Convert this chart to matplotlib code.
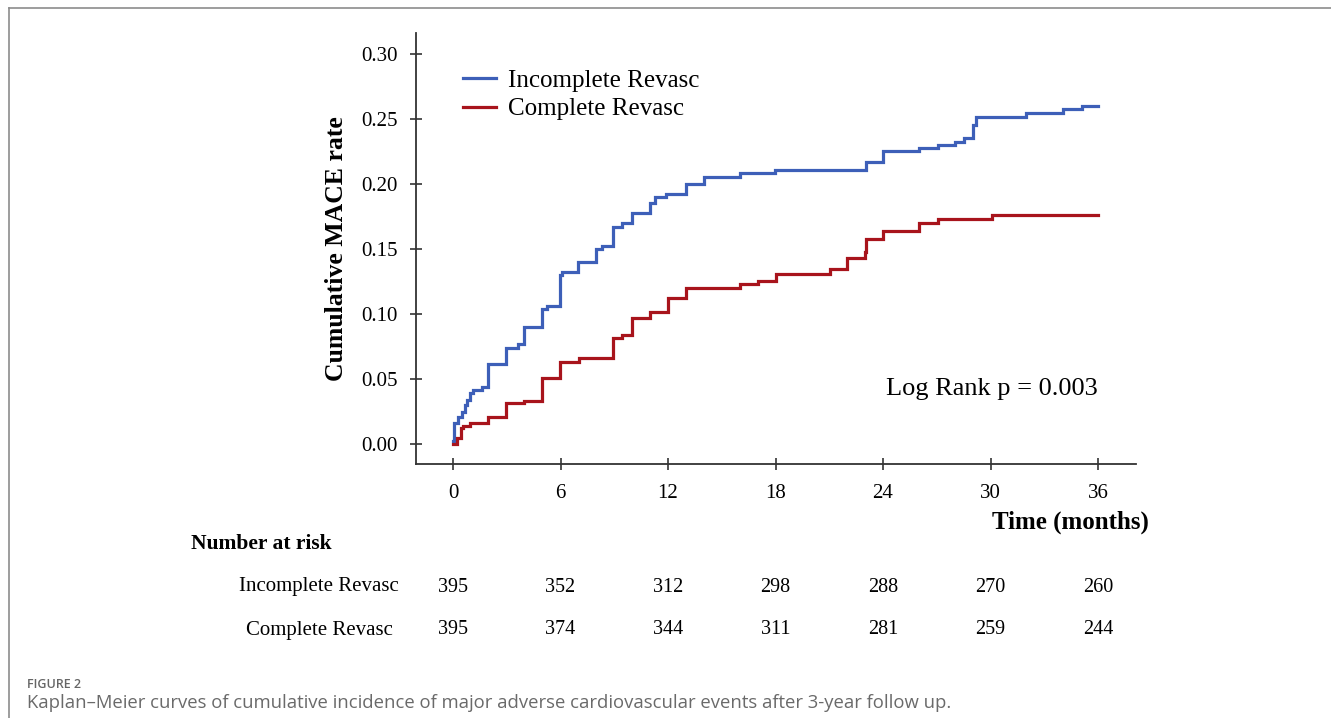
import matplotlib
matplotlib.use("Agg")
import matplotlib.pyplot as plt
from matplotlib.lines import Line2D
import numpy as np

# ---------------- data ----------------
inc_t = [0.0, 0.06, 0.3, 0.48, 0.67, 0.76, 0.95, 1.13, 1.6, 1.93, 2.96, 3.65, 3.96,
         4.99, 5.23, 5.97, 6.06, 6.96, 7.96, 8.3, 8.95, 9.41, 9.97, 11.0, 11.27, 11.9,
         12.98, 14.0, 16.0, 17.97, 23.05, 24.0, 26.0, 27.05, 28.0, 28.5, 29.03, 29.2,
         31.96, 34.06, 35.08, 36.0]
inc_y = [0.002, 0.016, 0.021, 0.025, 0.030, 0.034, 0.039, 0.0415, 0.044, 0.0615, 0.0736,
         0.077, 0.0898, 0.1036, 0.106, 0.130, 0.1325, 0.1397, 0.1497, 0.152, 0.167, 0.170,
         0.1775, 0.1856, 0.190, 0.192, 0.200, 0.2056, 0.2082, 0.2108, 0.2166, 0.225,
         0.2275, 0.230, 0.2325, 0.2356, 0.2454, 0.2518, 0.2549, 0.2574, 0.260, 0.260]

com_t = [0.0, 0.2, 0.43, 0.58, 0.95, 1.93, 2.96, 3.96, 4.99, 5.97, 7.03, 8.95, 9.41,
         9.97, 11.0, 12.0, 12.98, 16.0, 17.0, 18.0, 21.04, 22.0, 22.99, 23.05, 24.0,
         26.0, 27.05, 30.06, 36.0]
com_y = [0.0, 0.0044, 0.012, 0.0138, 0.016, 0.021, 0.0313, 0.0333, 0.0505, 0.0633,
         0.066, 0.0818, 0.0838, 0.0967, 0.1018, 0.1121, 0.1203, 0.1228, 0.1256, 0.131,
         0.1343, 0.143, 0.148, 0.1577, 0.164, 0.170, 0.1728, 0.176, 0.176]

xticks = [0, 6, 12, 18, 24, 30, 36]
yticks = [0.00, 0.05, 0.10, 0.15, 0.20, 0.25, 0.30]
groups = ["Incomplete Revasc", "Complete Revasc"]
risk_inc = [395, 352, 312, 298, 288, 270, 260]
risk_com = [395, 374, 344, 311, 281, 259, 244]

BLUE = "#3d5fb8"
RED = "#a8141c"
SERIF = ["Liberation Serif", "DejaVu Serif"]

W, H = 1331, 718
fig = plt.figure(figsize=(W / 100, H / 100), dpi=100)

def fx(px):
    return px / W

def fy(py):
    return 1 - py / H

# frame of the figure panel
fig.add_artist(Line2D([fx(9), 1.0], [fy(8), fy(8)], color="#8c8c8c", lw=1.2))
fig.add_artist(Line2D([fx(9), fx(9)], [fy(8), 0.0], color="#8c8c8c", lw=1.2))

# axes
left, right, top, bottom = 416, 1136, 33, 464
ax = fig.add_axes([fx(left), fy(bottom), fx(right - left), (bottom - top) / H])
ax.step(inc_t, inc_y, where="post", color=BLUE, lw=2.3, solid_joinstyle="miter")
ax.step(com_t, com_y, where="post", color=RED, lw=2.3, solid_joinstyle="miter")

px_per_month = (1098 - 453) / 36.0
x0 = -(453 - left) / px_per_month
x1 = 36 + (right - 1098) / px_per_month
px_per_unit = (444 - 54) / 0.30
y0 = -(bottom - 444) / px_per_unit
y1 = 0.30 + (54 - top) / px_per_unit
ax.set_xlim(x0, x1)
ax.set_ylim(y0, y1)

for s in ["top", "right"]:
    ax.spines[s].set_visible(False)
for s in ["left", "bottom"]:
    ax.spines[s].set_color("#333333")
    ax.spines[s].set_linewidth(1.3)

ax.set_xticks(xticks)
ax.set_xticklabels([str(v) for v in xticks], fontfamily=SERIF, fontsize=15)
ax.set_yticks(yticks)
ax.set_yticklabels([f"{v:.2f}" for v in yticks], fontfamily=SERIF, fontsize=15)
ax.tick_params(axis="both", direction="inout", length=9, width=1.2, color="#333333")
ax.tick_params(axis="x", pad=10)
ax.tick_params(axis="y", pad=8.5)

ax.set_ylabel("Cumulative MACE rate", fontfamily=SERIF, fontsize=18.5,
              fontweight="bold", labelpad=10)

# legend
leg = ax.legend([Line2D([], [], color=BLUE, lw=2.3), Line2D([], [], color=RED, lw=2.3)],
                groups, loc="upper left", bbox_to_anchor=(fx(463), fy(69)),
                bbox_transform=fig.transFigure, frameon=False, borderpad=0,
                borderaxespad=0, prop={"family": SERIF, "size": 18},
                handlelength=1.3, handletextpad=0.5, labelspacing=0.25)

ax.text(36, (444 - 389) / px_per_unit, "Log Rank p = 0.003", ha="right", va="center",
        fontfamily=SERIF, fontsize=19)

# x-axis title
fig.text(fx(1070), fy(522), "Time (months)", ha="center", va="center",
         fontfamily=SERIF, fontsize=18, fontweight="bold")

# number at risk table
fig.text(fx(191), fy(544), "Number at risk", ha="left", va="center",
         fontfamily=SERIF, fontsize=15.5, fontweight="bold")
row_y = [587, 630]
for label, vals, yy in zip(groups, [risk_inc, risk_com], row_y):
    fig.text(fx(319), fy(yy), label, ha="center", va="center",
             fontfamily=SERIF, fontsize=15)
    for t, v in zip(xticks, vals):
        xd = ax.transData.transform((t, 0))[0]
        fig.text(xd / W, fy(yy), str(v), ha="center", va="center",
                 fontfamily=SERIF, fontsize=14.5)

# caption
fig.text(fx(27), fy(685), "FIGURE 2", ha="left", va="center",
         fontfamily="Open Sans", fontsize=9, fontweight="semibold", color="#666666")
fig.text(fx(27), fy(703),
         "Kaplan\u2013Meier curves of cumulative incidence of major adverse cardiovascular events after 3-year follow up.",
         ha="left", va="center", fontfamily="Open Sans", fontsize=13.3, color="#6a6a6a")

fig.savefig("out.png", dpi=100)
